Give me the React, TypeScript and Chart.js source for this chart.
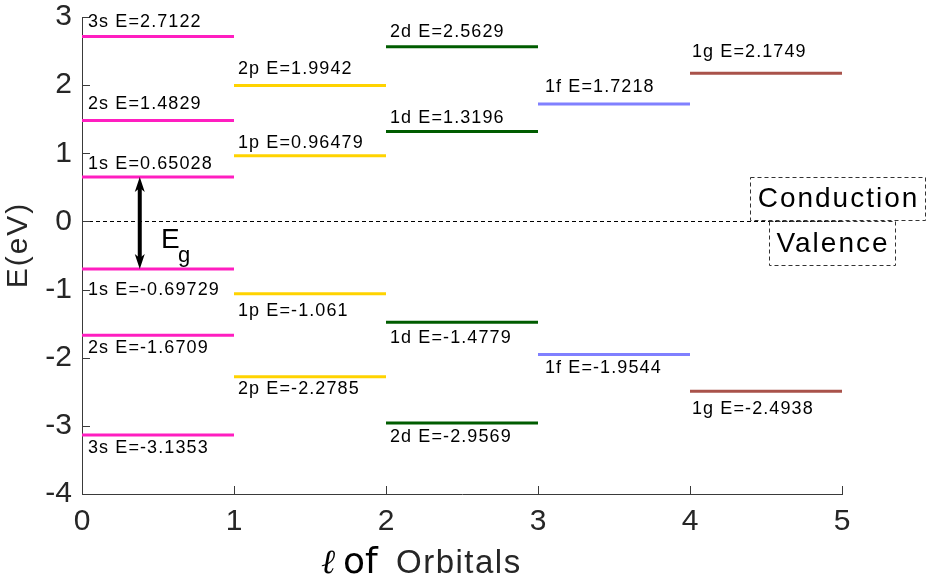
import React, { useEffect, useRef } from 'react';
import { Chart, registerables } from 'chart.js';

Chart.register(...registerables);

// ---- data ----
const orbitalNames = ['s', 'p', 'd', 'f', 'g'];
const orbitalColors = ['#FF1EC0', '#FFD300', '#005C00', '#8080FF', '#A9524A'];
const sPositive = [0.65028, 1.4829, 2.7122];
const sNegative = [-0.69729, -1.6709, -3.1353];
const pPositive = [0.96479, 1.9942];
const pNegative = [-1.061, -2.2785];
const dPositive = [1.3196, 2.5629];
const dNegative = [-1.4779, -2.9569];
const fPositive = [1.7218];
const fNegative = [-1.9544];
const gPositive = [2.1749];
const gNegative = [-2.4938];
const positiveLevels = [sPositive, pPositive, dPositive, fPositive, gPositive];
const negativeLevels = [sNegative, pNegative, dNegative, fNegative, gNegative];
const xTickValues = [0, 1, 2, 3, 4, 5];
const yTickValues = [-4, -3, -2, -1, 0, 1, 2, 3];

// label placement tweaks (pixels, relative to each level line)
const posLabelShift = [[-13, -16, -15], [-13, -17], [-13, -15], [-17], [-21]];
const negLabelShift = [[21, 13, 13], [17, 12], [16, 14], [13], [18]];
const labelDx = [6, 4, 4, 7, 2];

const gapArrowX = 0.38;

type Seg = { x0: number; v: number; color: string; label: string; dy: number; dx: number };

function buildSegments(): Seg[] {
  const segs: Seg[] = [];
  orbitalNames.forEach((name, li) => {
    positiveLevels[li].forEach((v, n) => {
      segs.push({ x0: li, v, color: orbitalColors[li], label: `${n + 1}${name} E=${v}`, dy: posLabelShift[li][n], dx: labelDx[li] });
    });
    negativeLevels[li].forEach((v, n) => {
      segs.push({ x0: li, v, color: orbitalColors[li], label: `${n + 1}${name} E=${v}`, dy: negLabelShift[li][n], dx: labelDx[li] });
    });
  });
  return segs;
}

export default function App() {
  const ref = useRef<HTMLCanvasElement | null>(null);
  useEffect(() => {
    const canvas = ref.current;
    if (!canvas) return;
    const segs = buildSegments();
    const axisColor = '#3a3a3a';
    const textColor = '#262626';

    const overlay = {
      id: 'overlay',
      beforeDatasetsDraw(chart: any) {
        const ctx = chart.ctx;
        const xs = chart.scales.x;
        const ys = chart.scales.y;
        ctx.save();
        // zero dashed line
        ctx.strokeStyle = '#000';
        ctx.lineWidth = 1;
        ctx.setLineDash([4, 3]);
        const y0 = Math.round(ys.getPixelForValue(0)) + 0.5;
        ctx.beginPath();
        ctx.moveTo(xs.getPixelForValue(0), y0);
        ctx.lineTo(xs.getPixelForValue(5), y0);
        ctx.stroke();
        ctx.setLineDash([]);
        // inner tick marks
        ctx.strokeStyle = axisColor;
        ctx.lineWidth = 1;
        const left = chart.chartArea.left;
        const bottom = chart.chartArea.bottom;
        yTickValues.forEach((v) => {
          const py = Math.round(ys.getPixelForValue(v)) + 0.5;
          ctx.beginPath();
          ctx.moveTo(left, py);
          ctx.lineTo(left + 8, py);
          ctx.stroke();
        });
        xTickValues.forEach((v) => {
          const px = Math.round(xs.getPixelForValue(v)) + 0.5;
          ctx.beginPath();
          ctx.moveTo(px, bottom);
          ctx.lineTo(px, bottom - 8);
          ctx.stroke();
        });
        ctx.restore();
      },
      afterDraw(chart: any) {
        const ctx = chart.ctx;
        const xs = chart.scales.x;
        const ys = chart.scales.y;
        ctx.save();
        // level labels
        ctx.fillStyle = '#000';
        ctx.font = '18px "Liberation Sans", Arial, sans-serif';
        (ctx as any).letterSpacing = '1.1px';
        ctx.textAlign = 'left';
        ctx.textBaseline = 'middle';
        segs.forEach((s) => {
          const px = xs.getPixelForValue(s.x0) + s.dx;
          const py = ys.getPixelForValue(s.v) + s.dy;
          ctx.fillText(s.label, px, py);
        });
        (ctx as any).letterSpacing = '0px';

        // band gap arrow
        const ax = xs.getPixelForValue(gapArrowX);
        const yTop = ys.getPixelForValue(sPositive[0]);
        const yBot = ys.getPixelForValue(sNegative[0]);
        ctx.fillStyle = '#000';
        ctx.strokeStyle = '#000';
        ctx.lineWidth = 4;
        ctx.beginPath();
        ctx.moveTo(ax, yTop + 8);
        ctx.lineTo(ax, yBot - 8);
        ctx.stroke();
        const head = (tipY: number, dir: number) => {
          ctx.beginPath();
          ctx.moveTo(ax, tipY);
          ctx.lineTo(ax + 5, tipY + dir * 15);
          ctx.lineTo(ax, tipY + dir * 11);
          ctx.lineTo(ax - 5, tipY + dir * 15);
          ctx.closePath();
          ctx.fill();
        };
        head(yTop, 1);
        head(yBot, -1);

        // E_g label
        ctx.font = '28px "Liberation Sans", Arial, sans-serif';
        ctx.textBaseline = 'alphabetic';
        ctx.fillText('E', 161, 248);
        ctx.font = '22px "Liberation Sans", Arial, sans-serif';
        ctx.fillText('g', 178, 262);

        // Conduction / Valence boxes
        const box = (text: string, x0: number, y0: number, x1: number, y1: number) => {
          ctx.save();
          ctx.strokeStyle = '#333';
          ctx.lineWidth = 1;
          ctx.setLineDash([4, 3]);
          ctx.strokeRect(x0 + 0.5, y0 + 0.5, x1 - x0, y1 - y0);
          ctx.setLineDash([]);
          ctx.fillStyle = '#000';
          ctx.font = '28px "Liberation Sans", Arial, sans-serif';
          (ctx as any).letterSpacing = '2px';
          ctx.textAlign = 'center';
          ctx.textBaseline = 'middle';
          ctx.fillText(text, (x0 + x1) / 2 + 1, (y0 + y1) / 2 + 1);
          ctx.restore();
        };
        box('Conduction', 750, 177, 925, 220);
        box('Valence', 769, 221, 895, 265);

        // y title
        ctx.save();
        ctx.translate(19, 245);
        ctx.rotate(-Math.PI / 2);
        ctx.fillStyle = textColor;
        ctx.font = '30px "Liberation Sans", Arial, sans-serif';
        (ctx as any).letterSpacing = '2px';
        ctx.textAlign = 'center';
        ctx.textBaseline = 'middle';
        ctx.fillText('E(eV)', 0, 0);
        ctx.restore();

        // x title
        ctx.textAlign = 'left';
        ctx.textBaseline = 'alphabetic';
        ctx.fillStyle = '#000';
        ctx.font = 'italic 34px "DejaVu Serif", serif';
        ctx.fillText('\u2113', 321, 573);
        ctx.font = '36px "DejaVu Sans", sans-serif';
        ctx.fillText('of', 343, 573);
        ctx.fillStyle = textColor;
        ctx.font = '33px "Liberation Sans", Arial, sans-serif';
        (ctx as any).letterSpacing = '1.5px';
        ctx.fillText('Orbitals', 396, 573);
        (ctx as any).letterSpacing = '0px';
        ctx.restore();
      },
    };

    const datasets = segs.map((s) => ({
      data: [
        { x: s.x0, y: s.v },
        { x: s.x0 + 1, y: s.v },
      ],
      borderColor: s.color,
      backgroundColor: s.color,
      borderWidth: 3,
      pointRadius: 0,
      borderCapStyle: 'butt' as const,
      fill: false,
      tension: 0,
    }));

    const chart = new Chart(canvas, {
      type: 'line',
      data: { datasets },
      options: {
        animation: false,
        responsive: false,
        maintainAspectRatio: false,
        devicePixelRatio: 1,
        events: [],
        layout: { padding: { left: 0, top: 17, right: 91, bottom: 0 } },
        plugins: { legend: { display: false }, tooltip: { enabled: false } },
        scales: {
          x: {
            type: 'linear',
            min: 0,
            max: 5,
            afterFit: (scale: any) => {
              scale.height = 88;
            },
            afterBuildTicks: (scale: any) => {
              scale.ticks = xTickValues.map((v) => ({ value: v }));
            },
            grid: { display: false, drawTicks: true, tickLength: 13 },
            border: { display: true, color: axisColor, width: 1 },
            ticks: {
              color: textColor,
              padding: 0,
              font: { family: '"Liberation Sans", Arial, sans-serif', size: 30, lineHeight: 1 },
              maxRotation: 0,
              autoSkip: false,
            },
          },
          y: {
            type: 'linear',
            min: -4,
            max: 3,
            afterFit: (scale: any) => {
              scale.width = 82;
            },
            afterBuildTicks: (scale: any) => {
              scale.ticks = yTickValues.map((v) => ({ value: v }));
            },
            grid: { display: false, drawTicks: true, tickLength: 10 },
            border: { display: true, color: axisColor, width: 1 },
            ticks: {
              color: textColor,
              padding: 0,
              font: { family: '"Liberation Sans", Arial, sans-serif', size: 30, lineHeight: 1 },
              autoSkip: false,
            },
          },
        },
      },
      plugins: [overlay],
    } as any);
    return () => chart.destroy();
  }, []);

  return (
    <div style={{ position: 'fixed', left: 0, top: 0, width: 933, height: 582, background: '#fff' }}>
      <canvas ref={ref} width={933} height={582} style={{ width: 933, height: 582, display: 'block' }} />
    </div>
  );
}
